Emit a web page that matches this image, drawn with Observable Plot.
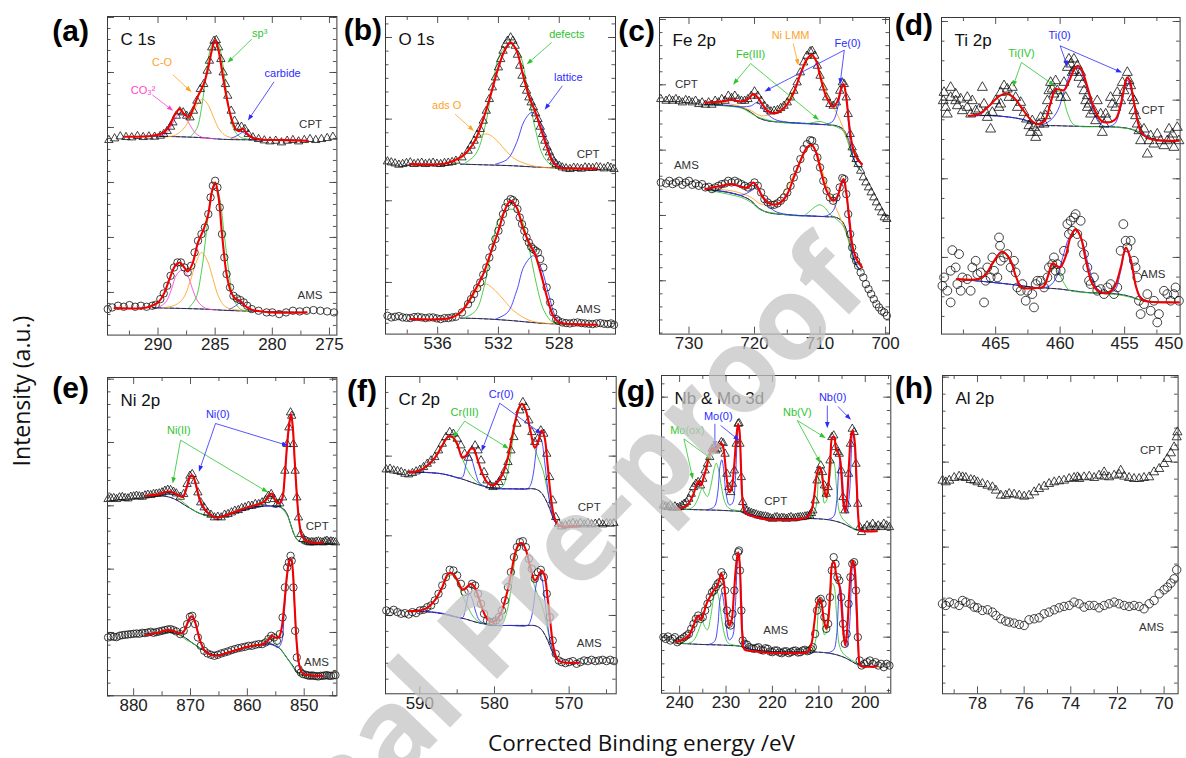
<!DOCTYPE html>
<html><head><meta charset="utf-8">
<script src="https://cdn.jsdelivr.net/npm/d3@7"></script>
<script src="https://cdn.jsdelivr.net/npm/@observablehq/plot@0.6"></script>
<style>
body{margin:0;background:#fff;}
#root{position:relative;width:1186px;height:758px;overflow:hidden;background:#fff;}
</style></head><body><div id="root"></div>
<script>
// ---------------- DATA: [binding energy (eV), intensity (a.u.)] ----------------
// (a) C 1s
const a_cpt = [[294.3,585],[293.8,590],[293.3,596],[292.8,594],[292.3,593],[291.8,597],[291.3,594],[290.8,596],[290.3,595],[289.8,598],[289.5,603],[289.2,612],[288.9,625],[288.7,638],[288.4,658],[288.1,671],[287.8,668],[287.5,658],[287.2,653],[286.9,673],[286.6,703],[286.3,738],[286.0,753],[285.7,793],[285.5,823],[285.3,863],[285.1,883],[284.9,885],[284.7,863],[284.5,828],[284.3,788],[284.1,753],[283.9,718],[283.6,673],[283.3,643],[283.0,623],[282.7,625],[282.4,618],[282.1,603],[281.7,593],[281.2,588],[280.7,584],[280.2,581],[279.7,583],[279.2,578],[278.7,583],[278.2,585],[277.7,581],[277.2,585],[276.7,588],[276.2,585],[275.7,588],[275.2,591],[274.7,595]];
const a_cpt_fit = [[292.9,595],[290.5,598],[289.5,608],[289.0,628],[288.5,663],[288.1,678],[287.7,663],[287.3,655],[287.0,673],[286.5,718],[286.0,753],[285.6,803],[285.3,853],[285.0,885],[284.7,853],[284.4,793],[284.0,713],[283.6,653],[283.2,618],[282.9,612],[282.6,620],[282.3,608],[281.8,593],[281.0,587],[279.0,585],[276.9,583]];
const a_cpt_co3 = [[290.0,596],[289.3,605],[288.8,630],[288.4,655],[288.0,668],[287.6,655],[287.2,630],[286.7,605],[286.0,592],[285.0,590]];
const a_cpt_co = [[289.5,594],[288.5,600],[287.8,618],[287.2,650],[286.7,685],[286.1,708],[285.6,690],[285.1,650],[284.6,615],[284.0,597],[283.0,590]];
const a_cpt_sp3 = [[287.2,594],[286.6,620],[286.2,680],[285.8,780],[285.4,860],[285.0,885],[284.6,860],[284.2,780],[283.8,680],[283.4,620],[282.8,594],[282.0,588]];
const a_cpt_carb = [[283.6,590],[283.0,600],[282.6,608],[282.2,600],[281.6,588]];
const a_cpt_bg = [[290.5,597],[288.0,595],[286.0,592],[285.0,589],[284.0,587],[282.0,586],[280.0,585],[277.0,584]];
const a_ams = [[294.4,78],[294.0,83],[293.5,88],[293.0,85],[292.5,90],[292.0,85],[291.5,88],[291.0,85],[290.5,88],[290.2,91],[289.8,108],[289.5,125],[289.2,148],[288.9,178],[288.6,203],[288.3,218],[288.0,218],[287.7,203],[287.4,188],[287.1,208],[286.8,248],[286.5,283],[286.2,303],[285.9,323],[285.6,363],[285.4,413],[285.2,448],[285.0,463],[284.8,443],[284.6,383],[284.4,303],[284.2,233],[284.0,183],[283.7,143],[283.4,118],[283.1,110],[282.8,105],[282.5,98],[282.2,88],[281.8,78],[281.2,73],[280.5,68],[280.0,68],[279.4,63],[278.8,68],[278.2,73],[277.6,71],[277.0,73],[276.4,75],[275.8,73],[275.2,71],[274.6,68]];
const a_ams_fit = [[293.8,81],[291.0,83],[290.0,98],[289.5,123],[289.0,168],[288.5,208],[288.1,218],[287.7,203],[287.4,191],[287.0,213],[286.5,278],[286.0,318],[285.6,363],[285.3,428],[285.0,458],[284.7,413],[284.4,303],[284.0,183],[283.6,128],[283.2,108],[282.8,103],[282.4,88],[281.8,76],[280.0,68],[277.0,68]];
const a_ams_co3 = [[290.0,82],[289.3,100],[288.8,140],[288.4,180],[287.9,195],[287.4,178],[287.0,140],[286.5,100],[285.8,80],[285.0,76]];
const a_ams_co = [[289.5,82],[288.5,90],[287.8,110],[287.2,160],[286.7,215],[286.2,248],[285.7,225],[285.2,170],[284.7,115],[284.1,85],[283.0,75],[282.0,73]];
const a_ams_sp3 = [[287.3,82],[286.7,110],[286.2,190],[285.8,300],[285.4,410],[285.0,458],[284.6,410],[284.2,300],[283.8,190],[283.4,110],[282.8,78],[282.0,72]];
const a_ams_carb = [[283.8,76],[283.2,88],[282.8,98],[282.4,88],[281.8,72]];
const a_ams_bg = [[290.5,82],[288.0,80],[286.0,78],[284.0,74],[282.0,72],[280.0,70],[277.0,68]];
const a_labels = [{x:281.1,y:906,text:"sp³",c:"green"},{x:289.65,y:818,text:"C-O",c:"orange"},{x:291.3,y:735,text:"CO₃²",c:"magenta"},{x:279.1,y:785,text:"carbide",c:"blue"},{x:276.65,y:633,text:"CPT",c:"dark"},{x:276.7,y:118,text:"AMS",c:"dark"}];
const a_arrows = [{x1:281.8,y1:888,x2:283.75,y2:823,c:"green"},{x1:288.7,y1:781,x2:287.25,y2:735,c:"orange"},{x1:290.5,y1:721,x2:288.87,y2:678,c:"magenta"},{x1:279.85,y1:760,x2:282.0,y2:651,c:"blue"}];

// (b) O 1s
const b_cpt = [[539.3,518],[539.05,515],[538.8,512],[538.55,508],[538.3,510],[538.05,513],[537.8,515],[537.55,510],[537.3,512],[537.05,514],[536.8,510],[536.55,512],[536.3,514],[536.05,511],[535.8,510],[535.55,513],[535.3,514],[535.05,516],[534.8,520],[534.4,530],[534.0,550],[533.8,565],[533.6,580],[533.4,598],[533.2,615],[533.0,640],[532.8,670],[532.6,705],[532.4,740],[532.2,770],[532.0,800],[531.85,825],[531.7,850],[531.55,868],[531.4,880],[531.2,890],[531.05,880],[530.9,865],[530.75,838],[530.6,805],[530.45,775],[530.3,750],[530.15,730],[530.0,710],[529.85,695],[529.7,680],[529.55,662],[529.4,645],[529.25,622],[529.1,600],[528.95,580],[528.8,560],[528.65,545],[528.5,530],[528.35,518],[528.2,510],[528.0,505],[527.8,500],[527.55,497],[527.3,495],[527.05,499],[526.8,498],[526.55,496],[526.3,500],[526.05,499],[525.8,498],[525.55,501],[525.3,500],[525.05,497],[524.8,502],[524.6,499],[524.4,495]];
const b_cpt_fit = [[537.8,510],[535.5,512],[534.5,530],[534.0,550],[533.5,585],[533.0,645],[532.5,720],[532.0,800],[531.6,850],[531.2,875],[530.8,850],[530.4,780],[530.0,715],[529.6,670],[529.2,615],[528.8,560],[528.4,515],[528.0,500],[527.0,497],[525.5,497]];
const b_cpt_def = [[534.3,510],[533.5,540],[532.9,620],[532.4,740],[531.9,840],[531.2,870],[530.6,840],[530.1,740],[529.6,620],[529.0,530],[528.3,502],[527.5,500]];
const b_cpt_ads = [[535.5,510],[534.5,525],[533.8,560],[533.2,595],[532.7,600],[532.2,585],[531.6,555],[531.0,528],[530.0,508],[529.0,500],[527.0,498]];
const b_cpt_lat = [[532.2,510],[531.4,525],[530.8,575],[530.3,640],[529.8,665],[529.3,640],[528.8,570],[528.3,515],[527.7,500]];
const b_cpt_bg = [[534.5,510],[533.0,508],[531.0,505],[529.0,500],[527.0,498]];
const b_ams = [[539.3,55],[539.05,50],[538.8,52],[538.55,54],[538.3,50],[538.05,49],[537.8,48],[537.55,51],[537.3,52],[537.05,50],[536.8,48],[536.55,50],[536.3,50],[536.05,47],[535.8,45],[535.55,48],[535.3,48],[535.05,50],[534.8,52],[534.4,65],[534.0,90],[533.8,105],[533.6,120],[533.4,138],[533.2,155],[533.0,178],[532.8,200],[532.6,230],[532.4,260],[532.2,285],[532.0,310],[531.85,335],[531.7,360],[531.55,380],[531.4,395],[531.2,405],[531.05,402],[530.9,395],[530.75,375],[530.6,350],[530.45,330],[530.3,310],[530.15,290],[530.0,275],[529.85,262],[529.7,255],[529.55,250],[529.4,245],[529.25,225],[529.05,200],[528.83,140],[528.6,95],[528.4,65],[528.2,45],[528.07,40],[527.8,35],[527.55,33],[527.3,32],[527.05,34],[526.8,35],[526.55,33],[526.3,32],[526.05,31],[525.8,30],[525.55,32],[525.3,33],[525.05,31],[524.8,30],[524.6,32],[524.4,28]];
const b_ams_fit = [[537.8,45],[535.2,48],[534.5,65],[534.0,95],[533.5,135],[533.0,180],[532.5,245],[532.0,310],[531.6,370],[531.2,400],[530.8,380],[530.4,320],[530.0,275],[529.6,240],[529.2,180],[528.8,110],[528.4,55],[528.0,35],[527.0,30],[525.5,28]];
const b_ams_def = [[534.3,48],[533.5,70],[532.9,150],[532.4,270],[531.9,350],[531.1,375],[530.5,345],[530.0,260],[529.5,150],[529.0,70],[528.4,35],[527.5,30]];
const b_ams_ads = [[535.5,46],[534.5,60],[533.8,105],[533.2,143],[532.8,150],[532.2,130],[531.6,100],[531.0,70],[530.0,42],[529.0,33],[527.0,30]];
const b_ams_lat = [[532.2,45],[531.4,65],[530.8,130],[530.3,205],[529.7,235],[529.2,200],[528.7,120],[528.2,50],[527.6,30]];
const b_ams_bg = [[534.5,48],[533.0,46],[531.0,40],[529.0,32],[527.0,30]];
const b_labels = [{x:527.5,y:898,text:"defects",c:"green"},{x:527.4,y:770,text:"lattice",c:"blue"},{x:535.4,y:685,text:"ads O",c:"orange"},{x:526.1,y:538,text:"CPT",c:"dark"},{x:526.1,y:75,text:"AMS",c:"dark"}];
const b_arrows = [{x1:528.5,y1:875,x2:530.0,y2:815,c:"green"},{x1:527.8,y1:745,x2:528.85,y2:680,c:"blue"},{x1:534.85,y1:660,x2:533.75,y2:615,c:"orange"}];

// (c) Fe 2p
const c_cpt = [[734.3,705],[733.5,700],[733.0,705],[732.5,700],[732.0,705],[731.5,700],[731.0,695],[730.5,702],[730.0,700],[729.5,695],[729.0,700],[728.5,690],[728.0,695],[727.5,688],[727.0,695],[726.5,688],[726.0,700],[725.5,695],[725.0,705],[724.5,700],[724.0,715],[723.5,708],[723.0,715],[722.5,705],[722.0,700],[721.5,700],[721.0,705],[720.5,715],[720.0,728],[719.5,715],[719.0,700],[718.5,685],[718.0,675],[717.5,668],[717.0,670],[716.5,672],[716.0,678],[715.5,685],[715.0,695],[714.5,710],[714.0,730],[713.5,755],[713.0,785],[712.5,815],[712.0,835],[711.5,848],[711.2,850],[710.8,835],[710.4,805],[710.0,775],[709.5,740],[709.0,710],[708.5,690],[708.0,685],[707.5,695],[707.0,730],[706.6,755],[706.3,750],[706.0,710],[705.7,660],[705.4,600],[705.1,560],[704.8,540],[704.5,525],[704.2,510],[703.8,490],[703.4,470],[703.0,455],[702.6,440],[702.2,425],[701.8,410],[701.4,395],[701.0,380],[700.6,365],[700.2,350],[699.8,345]];
const c_cpt_fit = [[727.5,695],[725.0,698],[723.5,703],[722.0,698],[721.0,705],[720.2,720],[719.5,710],[719.0,695],[718.0,670],[717.0,662],[716.0,670],[715.0,690],[714.0,725],[713.0,780],[712.0,825],[711.3,838],[710.6,820],[710.0,775],[709.0,710],[708.0,682],[707.3,700],[706.8,735],[706.4,750],[706.0,710],[705.5,620],[705.0,560],[704.3,525],[703.6,510]];
const c_cpt_bg = [[727.5,690],[724.0,685],[722.0,680],[720.5,665],[719.5,650],[718.0,640],[715.0,635],[712.0,632],[709.0,628],[707.5,625],[706.5,615],[705.8,590],[705.2,545],[704.5,510],[704.0,495],[703.7,490]];
const c_cpt_ni = [[727.5,692],[723.0,688],[720.5,670],[719.0,655],[717.5,660],[716.0,680],[714.5,715],[713.0,775],[712.0,820],[711.3,832],[710.5,815],[709.5,755],[708.5,700],[707.5,665],[706.5,620],[705.5,570],[704.5,530],[703.7,515]];
const c_cpt_fe0 = [[727.5,690],[724.0,686],[722.0,682],[720.5,685],[719.6,695],[718.5,670],[717.0,645],[715.0,636],[711.0,630],[709.0,630],[708.0,640],[707.3,680],[706.8,730],[706.4,745],[706.0,710],[705.6,620],[705.2,550],[704.6,515],[704.0,500]];
const c_cpt_fe3 = [[727.5,688],[722.0,678],[720.5,662],[719.0,648],[716.0,635],[712.0,632],[711.0,635],[710.0,638],[709.0,632],[707.5,622],[706.5,610],[705.8,580],[705.2,540],[704.5,507],[703.8,492]];
const c_ams = [[734.3,455],[733.5,452],[733.0,460],[732.5,450],[732.0,455],[731.5,460],[731.0,448],[730.5,455],[730.0,460],[729.5,448],[729.0,452],[728.5,445],[728.0,450],[727.5,440],[727.0,442],[726.5,435],[726.0,440],[725.5,445],[725.0,450],[724.5,452],[724.0,460],[723.5,455],[723.0,460],[722.5,455],[722.0,450],[721.5,445],[721.0,440],[720.5,445],[720.0,455],[719.5,445],[719.0,425],[718.5,405],[718.0,395],[717.5,388],[717.0,388],[716.5,392],[716.0,400],[715.5,410],[715.0,425],[714.5,445],[714.0,470],[713.5,495],[713.0,525],[712.5,555],[712.0,570],[711.5,582],[711.2,580],[710.8,560],[710.4,530],[710.0,500],[709.5,460],[709.0,430],[708.5,410],[708.0,400],[707.5,410],[707.0,440],[706.6,468],[706.3,465],[706.0,420],[705.7,360],[705.4,300],[705.1,260],[704.8,235],[704.5,220],[704.2,205],[703.8,185],[703.4,170],[703.0,150],[702.6,135],[702.2,120],[701.8,105],[701.4,90],[701.0,80],[700.6,70],[700.2,65],[699.8,55]];
const c_ams_fit = [[727.5,435],[725.0,445],[723.5,450],[722.0,442],[721.0,440],[720.2,455],[719.5,440],[719.0,420],[718.0,395],[717.0,388],[716.0,395],[715.0,420],[714.0,470],[713.0,520],[712.0,560],[711.3,568],[710.6,545],[710.0,500],[709.0,430],[708.0,400],[707.3,415],[706.8,450],[706.4,465],[706.0,425],[705.5,340],[705.0,260],[704.3,220],[703.6,200]];
const c_ams_bg = [[727.5,435],[724.0,425],[722.0,415],[720.5,400],[719.5,380],[718.0,365],[715.0,358],[712.0,355],[709.0,352],[707.5,350],[706.5,335],[705.8,300],[705.2,250],[704.5,210],[704.0,195],[703.7,190]];
const c_ams_ni = [[727.5,437],[723.0,428],[720.5,410],[719.0,390],[717.5,395],[716.0,415],[714.5,460],[713.0,515],[712.0,555],[711.3,565],[710.5,545],[709.5,480],[708.5,420],[707.5,375],[706.5,330],[705.5,280],[704.5,230],[703.7,205]];
const c_ams_fe0 = [[727.5,435],[724.0,426],[722.0,417],[720.5,430],[719.6,440],[718.5,400],[717.0,370],[715.0,359],[711.0,354],[709.0,355],[708.0,370],[707.3,410],[706.8,445],[706.4,455],[706.0,420],[705.6,340],[705.2,260],[704.6,210],[704.0,195]];
const c_ams_fe3 = [[727.5,433],[722.0,410],[720.5,395],[719.0,372],[716.0,360],[713.5,355],[712.5,355],[711.5,370],[710.5,385],[710.0,388],[709.3,380],[708.5,360],[707.5,345],[706.5,325],[705.8,290],[705.2,240],[704.5,205],[703.8,190]];
const c_labels = [{x:720.6,y:840,text:"Fe(III)",c:"green"},{x:714.5,y:895,text:"Ni LMM",c:"orange"},{x:705.8,y:873,text:"Fe(0)",c:"blue"},{x:730.4,y:750,text:"CPT",c:"dark"},{x:730.4,y:505,text:"AMS",c:"dark"}];
const c_arrows = [{x1:720.6,y1:812,x2:723.0,y2:755,c:"green"},{x1:720.6,y1:812,x2:710.5,y2:648,c:"green"},{x1:714.1,y1:872,x2:713.4,y2:815,c:"orange"},{x1:706.3,y1:852,x2:718.1,y2:732,c:"blue"},{x1:706.3,y1:852,x2:706.9,y2:757,c:"blue"}];

// (d) Ti 2p
const d_cpt = [[469.0,725],[469.06,700],[468.88,680],[468.49,740],[468.49,710],[468.1,720],[468.1,700],[467.97,685],[468.75,660],[467.71,705],[467.58,670],[467.2,710],[467.2,680],[466.94,660],[466.81,700],[466.55,670],[466.29,675],[466.03,740],[465.9,690],[465.78,665],[465.65,650],[465.39,615],[465.26,665],[465.0,700],[464.74,680],[464.61,725],[464.61,690],[464.35,745],[464.1,735],[463.97,710],[463.71,740],[463.45,710],[463.32,680],[463.06,695],[462.8,665],[462.6,645],[462.42,625],[462.29,605],[462.16,640],[462.03,620],[461.9,590],[461.77,605],[461.64,630],[461.51,650],[461.25,630],[461.12,655],[460.99,700],[460.99,670],[460.87,730],[460.74,755],[460.61,735],[460.48,720],[460.35,760],[460.22,730],[459.96,710],[459.7,755],[459.57,710],[459.44,800],[459.32,825],[459.19,810],[459.06,785],[458.93,825],[458.93,790],[458.67,805],[458.54,770],[458.41,785],[458.28,750],[458.15,730],[458.02,700],[457.89,715],[457.89,680],[457.76,690],[457.64,660],[457.38,670],[457.25,640],[457.12,700],[456.86,660],[456.73,605],[456.6,630],[456.47,660],[456.34,645],[456.09,710],[455.96,690],[455.7,680],[455.57,725],[455.31,700],[455.18,755],[455.05,730],[454.79,785],[454.66,760],[454.53,745],[454.41,710],[454.28,670],[454.28,700],[454.15,655],[454.02,630],[453.89,610],[453.76,580],[453.5,615],[453.24,540],[453.11,580],[452.98,595],[452.73,570],[452.47,600],[452.21,580],[451.95,565],[451.69,580],[451.56,615],[451.43,585],[451.3,600],[451.18,560],[450.92,620],[450.79,580]];
const d_cpt_fit = [[467.1,655],[466.3,660],[465.5,685],[464.8,712],[464.2,722],[463.6,710],[463.0,680],[462.4,648],[461.8,630],[461.2,640],[460.7,700],[460.35,735],[460.0,733],[459.7,732],[459.3,760],[458.9,795],[458.6,805],[458.3,790],[457.8,730],[457.3,670],[456.8,640],[456.3,635],[455.7,645],[455.3,690],[455.0,745],[454.8,770],[454.6,760],[454.3,700],[454.0,640],[453.7,605],[453.2,588],[452.5,582],[451.5,580],[450.8,580]];
const d_cpt_bg = [[467.1,655],[465.0,655],[463.0,645],[461.5,628],[460.0,625],[458.0,623],[456.0,622],[454.5,615],[453.5,595],[452.5,582],[450.8,580]];
const d_cpt_ti0 = [[467.1,655],[465.0,655],[463.0,645],[462.0,632],[461.5,628],[460.8,640],[460.2,670],[459.6,740],[459.1,790],[458.6,800],[458.1,760],[457.5,680],[457.0,635],[456.5,623],[455.8,630],[455.3,680],[454.8,762],[454.3,700],[453.8,620],[453.4,598],[452.8,584],[451.0,580]];
const d_cpt_ti4 = [[467.1,655],[466.3,662],[465.5,685],[464.8,712],[464.2,720],[463.6,708],[463.0,678],[462.4,648],[461.8,632],[461.2,642],[460.7,700],[460.3,732],[459.9,720],[459.4,660],[459.0,630],[458.5,623],[457.0,622],[455.0,618],[454.0,610],[453.5,598],[452.5,583],[451.0,580]];
const d_ams = [[469.13,145],[469.0,170],[468.75,130],[468.49,95],[468.36,252],[468.49,190],[468.1,200],[467.84,240],[467.97,150],[467.58,170],[467.71,130],[467.2,165],[466.94,130],[466.81,200],[466.55,220],[466.42,180],[466.16,185],[465.9,95],[465.78,160],[465.65,200],[465.39,170],[465.26,230],[465.13,190],[464.87,170],[464.74,290],[464.66,265],[464.61,220],[464.35,230],[464.1,240],[463.84,200],[463.58,220],[463.45,185],[463.32,140],[463.06,130],[462.93,150],[462.67,100],[462.55,130],[462.16,120],[462.03,80],[461.9,150],[461.77,160],[461.51,160],[461.25,140],[460.99,170],[460.87,200],[460.61,210],[460.48,230],[460.35,190],[460.22,210],[460.09,170],[459.96,190],[459.7,250],[459.44,330],[459.32,300],[459.19,340],[459.06,310],[458.93,350],[458.8,360],[458.67,300],[458.41,340],[458.28,270],[458.15,240],[457.89,200],[457.76,160],[457.64,150],[457.38,170],[457.12,130],[456.86,135],[456.6,120],[456.34,140],[456.09,150],[455.83,120],[455.57,140],[455.31,250],[455.1,330],[454.92,280],[454.79,260],[454.53,280],[454.28,220],[454.15,200],[454.02,170],[453.89,100],[453.76,60],[453.5,90],[453.24,120],[452.98,70],[452.73,100],[452.47,35],[452.34,60],[451.95,130],[451.69,120],[451.43,100],[451.18,120],[451.05,140],[450.79,100]];
const d_ams_fit = [[468.0,165],[466.3,165],[465.8,178],[465.2,215],[464.5,248],[463.9,225],[463.4,170],[463.0,140],[462.0,138],[461.3,142],[460.9,180],[460.6,212],[460.2,203],[460.0,200],[459.6,230],[459.2,290],[458.8,315],[458.4,290],[458.0,220],[457.5,150],[457.0,128],[456.3,123],[455.8,140],[455.3,200],[454.9,260],[454.5,220],[454.1,140],[453.7,105],[453.0,97],[451.5,95],[450.8,95]];
const d_ams_bg = [[468.0,165],[466.0,158],[464.0,150],[462.0,140],[461.0,138],[460.0,135],[459.0,130],[458.0,125],[457.0,123],[455.5,120],[454.5,112],[453.8,102],[453.0,97],[450.8,95]];
const d_ams_ti0 = [[468.0,165],[466.0,158],[464.0,150],[462.0,140],[461.5,138],[460.8,145],[460.3,170],[459.8,230],[459.3,290],[458.8,312],[458.3,280],[457.7,190],[457.2,140],[456.6,125],[455.8,130],[455.3,190],[454.9,258],[454.4,190],[454.0,130],[453.6,105],[453.0,97],[451.0,95]];
const d_ams_ti4 = [[468.0,165],[466.3,163],[465.8,175],[465.2,210],[464.5,245],[463.9,222],[463.4,168],[463.0,145],[462.2,140],[461.3,142],[460.9,180],[460.6,210],[460.2,190],[459.8,160],[459.3,132],[458.5,126],[457.0,122],[455.5,118],[454.5,110],[453.8,102],[453.0,97],[451.0,95]];
const d_labels = [{x:463.0,y:842,text:"Ti(IV)",c:"green"},{x:460.04,y:895,text:"Ti(0)",c:"blue"},{x:452.8,y:670,text:"CPT",c:"dark"},{x:452.8,y:180,text:"AMS",c:"dark"}];
const d_arrows = [{x1:463.0,y1:815,x2:463.6,y2:750,c:"green"},{x1:463.0,y1:815,x2:460.6,y2:750,c:"green"},{x1:460.0,y1:865,x2:459.5,y2:810,c:"blue"},{x1:460.0,y1:865,x2:455.4,y2:788,c:"blue"}];

// (e) Ni 2p
const e_cpt = [[884.5,590],[884.0,592],[883.5,593],[883.0,590],[882.5,595],[882.0,596],[881.5,593],[881.0,592],[880.5,597],[880.0,598],[879.5,600],[879.0,598],[878.5,597],[878.0,601],[877.5,603],[877.0,602],[876.5,605],[876.0,606],[875.5,607],[875.0,610],[874.5,615],[874.0,618],[873.5,617],[873.0,612],[872.5,607],[871.8,597],[871.2,605],[870.6,635],[870.1,660],[869.7,665],[869.2,645],[868.7,610],[868.2,580],[867.6,565],[867.0,550],[866.4,543],[865.8,535],[865.2,537],[864.6,535],[864.0,543],[863.4,545],[862.8,550],[862.2,555],[861.6,557],[861.0,563],[860.4,565],[859.8,570],[859.2,570],[858.6,575],[858.0,575],[857.4,580],[856.8,587],[856.3,600],[855.8,605],[855.3,590],[854.8,575],[854.3,577],[853.8,595],[853.4,675],[853.0,755],[852.7,805],[852.4,850],[852.2,840],[851.9,755],[851.6,675],[851.3,595],[851.0,535],[850.6,485],[850.2,470],[849.7,465],[849.35,462],[849.0,460],[848.65,461],[848.3,460],[847.9,462],[847.5,463],[847.1,461],[846.7,460],[846.35,463],[846.0,465],[845.65,461],[845.3,463],[844.9,462],[844.5,460]];
const e_cpt_fit = [[877.8,600],[875.5,605],[874.0,613],[873.0,610],[872.0,600],[871.3,597],[870.6,630],[870.0,660],[869.6,660],[869.0,630],[868.4,590],[867.5,560],[866.5,543],[865.5,535],[864.0,540],[862.0,553],[860.0,565],[858.0,575],[857.0,583],[856.2,600],[855.7,607],[855.2,590],[854.5,577],[853.9,590],[853.4,665],[853.0,755],[852.6,820],[852.3,845],[852.0,805],[851.7,715],[851.3,605],[850.9,525],[850.4,480],[849.7,465],[848.5,460],[846.8,460]];
const e_cpt_bg = [[877.8,600],[875.0,600],[873.5,595],[872.2,585],[871.0,572],[869.8,560],[868.5,548],[867.0,540],[865.5,537],[863.5,543],[861.5,553],[859.5,562],[857.5,568],[856.0,570],[854.5,568],[853.6,560],[853.0,545],[852.4,515],[851.8,485],[851.2,468],[850.5,462],[849.0,460],[846.8,460]];
const e_cpt_ni0 = [[877.8,600],[875.0,603],[873.5,605],[872.5,603],[871.5,600],[870.6,625],[870.0,658],[869.6,660],[869.0,625],[868.4,585],[867.5,555],[866.5,543],[865.5,537],[863.5,543],[861.5,553],[859.5,562],[857.5,568],[856.5,570],[855.5,567],[854.8,565],[854.0,580],[853.4,660],[853.0,750],[852.6,815],[852.3,843],[852.0,800],[851.7,710],[851.3,600],[850.9,525],[850.4,480],[849.7,465],[848.5,460],[846.8,460]];
const e_cpt_ni2 = [[877.8,600],[875.0,600],[874.0,605],[873.3,608],[872.5,600],[871.6,585],[870.5,570],[869.8,560],[868.5,548],[867.0,540],[865.5,537],[863.5,543],[861.5,553],[859.5,562],[857.5,570],[856.6,585],[856.0,600],[855.4,590],[854.7,572],[854.0,563],[853.4,552],[852.8,535],[852.2,505],[851.6,478],[851.0,465],[850.0,460],[846.8,460]];
const e_ams = [[884.5,175],[884.0,178],[883.5,177],[883.0,176],[882.5,180],[882.0,182],[881.5,183],[881.0,184],[880.5,185],[880.0,186],[879.5,187],[879.0,186],[878.5,189],[878.0,188],[877.5,190],[877.0,192],[876.5,189],[876.0,191],[875.5,193],[875.0,195],[874.5,197],[874.0,199],[873.5,200],[873.0,197],[872.5,193],[871.8,185],[871.2,195],[870.6,215],[870.1,237],[869.7,240],[869.2,215],[868.7,175],[868.2,150],[867.6,135],[867.0,127],[866.4,123],[865.8,120],[865.2,123],[864.6,127],[864.0,130],[863.4,133],[862.8,137],[862.2,140],[861.6,143],[861.0,145],[860.4,147],[859.8,150],[859.2,150],[858.6,153],[858.0,155],[857.4,155],[856.8,160],[856.3,170],[855.8,180],[855.3,175],[854.8,165],[854.3,185],[853.8,235],[853.4,325],[853.0,385],[852.7,400],[852.4,420],[852.2,405],[851.9,325],[851.6,195],[851.3,115],[851.0,80],[850.6,70],[850.2,65],[849.7,63],[849.35,61],[849.0,60],[848.65,61],[848.3,60],[847.9,59],[847.5,58],[847.1,60],[846.7,60],[846.35,61],[846.0,62],[845.65,60],[845.3,60],[844.9,61],[844.5,62]];
const e_ams_fit = [[877.8,183],[875.5,190],[874.0,197],[873.0,195],[872.0,187],[871.3,190],[870.6,215],[870.0,237],[869.6,237],[869.0,210],[868.4,170],[867.5,135],[866.5,123],[865.5,120],[864.0,127],[862.0,137],[860.0,147],[858.0,153],[857.0,157],[856.2,170],[855.7,180],[855.2,175],[854.5,175],[854.0,200],[853.5,275],[853.0,365],[852.6,405],[852.3,410],[852.0,375],[851.7,275],[851.3,155],[850.9,95],[850.4,70],[849.7,63],[848.5,60],[846.8,60]];
const e_ams_bg = [[877.8,185],[875.0,188],[873.5,192],[872.2,185],[871.0,175],[869.8,160],[868.5,145],[867.0,130],[865.5,122],[863.5,128],[861.5,140],[859.5,148],[857.5,153],[856.0,156],[855.0,150],[854.2,140],[853.5,125],[852.8,108],[852.0,90],[851.4,75],[850.8,66],[849.8,62],[846.8,60]];
const e_ams_ni0 = [[877.8,185],[875.0,192],[873.5,196],[872.5,192],[871.5,188],[870.6,212],[870.0,235],[869.6,236],[869.0,210],[868.4,170],[867.5,138],[866.5,125],[865.5,122],[863.5,128],[861.5,140],[859.5,148],[857.5,153],[856.5,155],[855.5,152],[854.6,145],[854.0,160],[853.5,250],[853.0,360],[852.6,400],[852.3,410],[852.0,370],[851.7,270],[851.3,150],[850.9,90],[850.4,68],[849.7,62],[848.5,60],[846.8,60]];
const e_ams_ni2 = [[877.8,185],[875.0,188],[874.0,193],[873.3,195],[872.5,188],[871.6,178],[870.5,165],[869.8,160],[868.5,145],[867.0,130],[865.5,122],[863.5,128],[861.5,140],[859.5,148],[857.5,155],[856.6,170],[856.0,178],[855.4,170],[854.7,150],[854.0,138],[853.4,122],[852.8,108],[852.2,92],[851.6,76],[851.0,66],[850.0,61],[846.8,60]];
const e_labels = [{x:872.05,y:795,text:"Ni(II)",c:"green"},{x:865.2,y:845,text:"Ni(0)",c:"blue"},{x:847.7,y:507,text:"CPT",c:"dark"},{x:847.85,y:100,text:"AMS",c:"dark"}];
const e_arrows = [{x1:871.75,y1:767,x2:873.05,y2:645,c:"green"},{x1:871.75,y1:767,x2:856.8,y2:615,c:"green"},{x1:865.6,y1:817,x2:868.36,y2:680,c:"blue"},{x1:865.6,y1:817,x2:853.3,y2:753,c:"blue"}];

// (f) Cr 2p
const f_cpt = [[594.5,673],[594.0,675],[593.5,670],[593.0,668],[592.5,665],[592.0,660],[591.5,658],[591.0,662],[590.5,667],[590.0,672],[589.5,680],[589.0,690],[588.5,700],[588.0,710],[587.5,730],[587.0,750],[586.5,770],[586.0,785],[585.5,780],[585.0,765],[584.5,745],[584.0,720],[583.5,708],[583.0,730],[582.6,745],[582.2,730],[581.8,700],[581.4,665],[581.0,640],[580.6,625],[580.2,620],[579.8,625],[579.4,635],[579.0,650],[578.6,670],[578.2,695],[577.8,730],[577.4,770],[577.0,810],[576.6,850],[576.2,875],[575.8,860],[575.4,820],[575.0,785],[574.6,755],[574.2,765],[573.8,790],[573.4,780],[573.0,720],[572.6,650],[572.2,580],[571.8,530],[571.4,510],[571.0,502],[570.5,505],[570.0,508],[569.5,512],[569.0,508],[568.5,512],[568.0,508],[567.5,512],[567.0,508],[566.5,510],[566.0,512],[565.5,508],[565.0,512],[564.5,510],[564.0,512]];
const f_cpt_fit = [[591.5,665],[590.0,670],[589.0,685],[588.0,708],[587.0,745],[586.2,772],[585.6,770],[585.0,750],[584.3,708],[583.8,715],[583.2,735],[582.8,735],[582.3,705],[581.7,665],[581.0,635],[580.3,625],[579.6,635],[579.0,655],[578.3,700],[577.7,765],[577.2,820],[576.7,860],[576.3,870],[575.8,850],[575.2,790],[574.6,738],[574.1,760],[573.7,790],[573.3,770],[572.9,690],[572.5,600],[572.1,540],[571.6,510],[571.0,502],[569.5,502],[568.7,502]];
const f_cpt_bg = [[591.5,665],[590.0,665],[588.5,663],[587.0,660],[585.5,652],[584.0,642],[582.5,630],[581.0,620],[580.0,616],[578.0,615],[576.0,615],[574.5,614],[573.8,605],[573.2,585],[572.6,555],[572.1,525],[571.6,508],[571.0,502],[568.7,502]];
const f_cpt_cr0 = [[591.5,665],[588.0,663],[586.0,655],[585.0,648],[584.3,650],[583.8,690],[583.4,718],[583.0,700],[582.5,660],[582.0,632],[581.0,620],[580.0,616],[578.0,615],[575.6,615],[575.2,625],[574.8,660],[574.4,730],[574.0,770],[573.7,760],[573.3,700],[572.9,620],[572.5,560],[572.0,520],[571.5,506],[571.0,502],[568.7,502]];
const f_cpt_cr3 = [[591.5,665],[590.0,668],[589.0,682],[588.0,705],[587.0,740],[586.2,768],[585.6,768],[585.0,745],[584.3,705],[583.6,670],[582.8,645],[582.0,630],[581.0,620],[580.0,616],[579.0,620],[578.3,660],[577.7,740],[577.2,810],[576.7,855],[576.3,865],[575.8,845],[575.2,790],[574.6,735],[574.0,700],[573.5,670],[573.0,620],[572.5,570],[572.0,525],[571.5,508],[571.0,502],[568.7,502]];
const f_ams = [[594.5,250],[594.0,245],[593.5,252],[593.0,245],[592.5,240],[592.0,242],[591.5,238],[591.0,245],[590.5,242],[590.0,250],[589.5,252],[589.0,260],[588.5,265],[588.0,280],[587.5,300],[587.0,325],[586.5,350],[586.0,372],[585.5,370],[585.0,355],[584.5,330],[584.0,305],[583.5,310],[583.0,330],[582.6,325],[582.2,300],[581.8,270],[581.4,240],[581.0,220],[580.6,215],[580.2,215],[579.8,220],[579.4,230],[579.0,250],[578.6,280],[578.2,320],[577.8,365],[577.4,410],[577.0,440],[576.6,455],[576.2,458],[575.8,440],[575.4,405],[575.0,375],[574.6,345],[574.2,365],[573.8,372],[573.4,350],[573.0,300],[572.6,230],[572.2,160],[571.8,120],[571.4,100],[571.0,95],[570.5,92],[570.0,95],[569.5,98],[569.0,90],[568.5,95],[568.0,100],[567.5,98],[567.0,102],[566.5,98],[566.0,100],[565.5,102],[565.0,98],[564.5,102],[564.0,98]];
const f_ams_fit = [[591.5,248],[590.0,250],[589.0,258],[588.0,280],[587.0,320],[586.2,360],[585.6,360],[585.0,342],[584.3,312],[583.8,318],[583.2,330],[582.8,325],[582.3,300],[581.7,260],[581.0,225],[580.3,215],[579.6,225],[579.0,250],[578.3,305],[577.7,370],[577.2,425],[576.7,450],[576.3,452],[575.8,432],[575.2,380],[574.6,340],[574.1,355],[573.7,370],[573.3,355],[572.9,290],[572.5,210],[572.1,140],[571.6,105],[571.0,95],[569.5,93],[568.7,93]];
const f_ams_bg = [[591.5,248],[590.0,247],[588.5,245],[587.0,240],[585.5,232],[584.0,225],[582.5,215],[581.0,208],[580.0,205],[578.0,205],[576.0,205],[574.5,204],[573.8,195],[573.2,175],[572.6,145],[572.1,118],[571.6,102],[571.0,95],[568.7,93]];
const f_ams_cr0 = [[591.5,248],[588.0,245],[586.0,237],[585.0,230],[584.3,228],[583.8,265],[583.4,300],[583.0,285],[582.5,245],[582.0,220],[581.0,208],[580.0,205],[578.0,205],[575.6,205],[575.2,218],[574.8,260],[574.4,330],[574.0,362],[573.7,350],[573.3,290],[572.9,210],[572.5,155],[572.0,118],[571.5,102],[571.0,95],[568.7,93]];
const f_ams_cr3 = [[591.5,248],[590.0,250],[589.0,258],[588.0,280],[587.0,318],[586.2,352],[585.6,355],[585.0,335],[584.3,295],[583.6,262],[582.8,230],[582.0,215],[581.0,208],[580.0,205],[579.0,210],[578.3,250],[577.7,330],[577.2,410],[576.7,445],[576.3,450],[575.8,430],[575.2,375],[574.6,320],[574.0,285],[573.5,255],[573.0,205],[572.5,155],[572.0,120],[571.5,103],[571.0,95],[568.7,93]];
const f_labels = [{x:584.0,y:845,text:"Cr(III)",c:"green"},{x:579.1,y:898,text:"Cr(0)",c:"blue"},{x:567.3,y:560,text:"CPT",c:"dark"},{x:567.3,y:150,text:"AMS",c:"dark"}];
const f_arrows = [{x1:584.0,y1:818,x2:585.35,y2:775,c:"green"},{x1:584.0,y1:818,x2:578.4,y2:740,c:"green"},{x1:579.3,y1:872,x2:581.6,y2:735,c:"blue"},{x1:579.3,y1:872,x2:574.0,y2:785,c:"blue"}];

// (g) Nb & Mo 3d
const g_cpt = [[243.5,563],[243.0,560],[242.5,558],[242.0,563],[241.5,556],[241.0,560],[240.5,556],[240.0,558],[239.5,563],[239.0,568],[238.5,573],[238.0,583],[237.5,598],[237.0,618],[236.5,628],[236.0,633],[235.5,623],[235.0,643],[234.5,668],[234.0,688],[233.5,708],[233.0,733],[232.6,736],[232.2,728],[231.8,733],[231.4,743],[231.0,753],[230.6,750],[230.2,718],[229.8,658],[229.4,618],[229.0,603],[228.6,628],[228.2,668],[227.8,748],[227.4,808],[227.2,810],[227.0,748],[226.7,648],[226.4,573],[226.0,553],[225.5,548],[225.0,543],[224.5,540],[224.0,538],[223.5,536],[223.0,533],[222.5,532],[222.0,530],[221.5,530],[221.0,528],[220.5,525],[220.0,523],[219.5,527],[219.0,528],[218.5,524],[218.0,526],[217.5,525],[217.0,523],[216.5,526],[216.0,528],[215.5,524],[215.0,526],[214.5,527],[214.0,528],[213.5,528],[213.0,530],[212.5,531],[212.0,533],[211.6,540],[211.3,548],[210.8,578],[210.4,638],[210.0,668],[209.6,683],[209.2,663],[208.8,623],[208.4,598],[208.0,618],[207.6,698],[207.2,768],[206.8,773],[206.4,738],[206.0,723],[205.6,718],[205.2,668],[204.8,588],[204.4,548],[204.0,568],[203.6,658],[203.2,748],[202.8,793],[202.4,783],[202.0,688],[201.6,568],[201.2,498],[200.8,483],[200.2,493],[199.6,503],[199.0,498],[198.4,508],[197.8,498],[197.2,503],[196.6,498],[196.0,508],[195.4,503],[194.8,498]];
const g_cpt_fit = [[240.8,553],[239.0,558],[238.0,570],[237.0,598],[236.3,628],[235.9,636],[235.4,623],[234.8,648],[234.2,678],[233.5,718],[232.9,736],[232.4,728],[232.0,730],[231.5,746],[231.0,750],[230.6,738],[230.2,693],[229.8,638],[229.3,603],[228.8,613],[228.3,673],[227.8,763],[227.4,808],[227.1,788],[226.8,688],[226.5,588],[226.1,548],[225.5,538],[224.0,530],[222.0,523],[220.0,520],[218.0,520],[216.0,520],[214.0,523],[212.5,528],[211.6,548],[211.0,593],[210.4,658],[209.8,678],[209.4,663],[208.9,613],[208.4,588],[208.0,618],[207.5,708],[207.1,768],[206.7,768],[206.3,733],[205.9,723],[205.5,708],[205.1,648],[204.7,568],[204.3,543],[203.9,588],[203.5,688],[203.1,768],[202.7,788],[202.3,758],[201.9,648],[201.5,528],[201.1,488],[200.5,486],[197.5,486]];
const g_cpt_bg = [[240.8,553],[238.0,551],[235.0,550],[232.0,549],[229.0,547],[227.0,545],[226.0,540],[224.0,532],[220.0,525],[216.0,524],[212.0,524],[209.0,522],[207.0,518],[205.0,510],[203.5,500],[202.0,490],[200.5,486],[197.5,486]];
const g_cpt_moox = [[240.8,553],[238.0,553],[237.0,560],[236.0,585],[235.5,605],[235.1,615],[234.6,600],[234.0,590],[233.3,620],[232.6,670],[232.1,690],[231.6,670],[231.0,620],[230.3,575],[229.5,556],[228.5,550],[227.0,547],[225.0,538]];
const g_cpt_mo0 = [[234.0,550],[232.5,560],[231.8,600],[231.3,680],[230.9,700],[230.5,670],[230.0,600],[229.3,565],[228.6,570],[228.0,640],[227.6,760],[227.3,805],[227.0,760],[226.6,640],[226.2,565],[225.5,545],[224.0,533]];
const g_cpt_nbv = [[213.0,524],[211.5,530],[210.6,560],[210.1,640],[209.7,672],[209.3,640],[208.8,570],[208.3,580],[207.6,650],[207.1,700],[206.7,690],[206.2,620],[205.6,545],[204.8,522],[203.0,500],[201.5,488],[200.0,486]];
const g_cpt_nb0 = [[208.0,521],[206.8,530],[206.2,570],[205.7,670],[205.4,700],[205.0,660],[204.5,570],[204.0,540],[203.4,600],[203.0,720],[202.7,790],[202.4,760],[202.0,650],[201.6,540],[201.1,495],[200.5,487],[197.5,486]];
const g_ams = [[243.5,168],[243.0,163],[242.5,170],[242.0,158],[241.5,163],[241.0,168],[240.5,153],[240.0,158],[239.5,163],[239.0,168],[238.5,173],[238.0,178],[237.5,193],[237.0,208],[236.5,223],[236.0,233],[235.5,223],[235.0,228],[234.5,248],[234.0,268],[233.5,288],[233.0,303],[232.6,308],[232.2,318],[231.8,328],[231.4,333],[231.0,363],[230.6,353],[230.2,308],[229.8,248],[229.4,208],[229.0,203],[228.6,238],[228.2,308],[227.8,408],[227.4,423],[227.2,428],[227.0,368],[226.7,248],[226.4,158],[226.0,148],[225.5,146],[225.0,138],[224.5,135],[224.0,133],[223.5,136],[223.0,138],[222.5,130],[222.0,128],[221.5,135],[221.0,133],[220.5,125],[220.0,123],[219.5,128],[219.0,128],[218.5,122],[218.0,120],[217.5,125],[217.0,126],[216.5,120],[216.0,123],[215.5,127],[215.0,128],[214.5,122],[214.0,123],[213.5,128],[213.0,130],[212.5,126],[212.0,128],[211.6,132],[211.3,138],[210.8,178],[210.4,248],[210.0,278],[209.6,283],[209.2,268],[208.8,228],[208.4,193],[208.0,208],[207.6,288],[207.2,368],[206.8,408],[206.4,388],[206.0,348],[205.6,338],[205.2,288],[204.8,208],[204.4,148],[204.0,178],[203.6,268],[203.2,348],[202.8,388],[202.4,393],[202.0,308],[201.6,168],[201.2,98],[200.8,83],[200.2,88],[199.6,93],[199.0,98],[198.4,88],[197.8,93],[197.2,83],[196.6,88],[196.0,78],[195.4,88],[194.8,83]];
const g_ams_fit = [[240.8,153],[239.0,163],[238.0,173],[237.0,203],[236.3,228],[235.9,233],[235.4,220],[234.8,240],[234.2,268],[233.5,288],[232.9,303],[232.4,313],[232.0,318],[231.5,338],[231.0,358],[230.6,343],[230.2,298],[229.8,238],[229.3,203],[228.8,218],[228.3,298],[227.8,388],[227.4,423],[227.1,398],[226.8,288],[226.5,178],[226.1,133],[225.5,128],[224.0,126],[222.0,123],[220.0,120],[218.0,120],[216.0,120],[214.0,121],[212.5,123],[211.6,148],[211.0,208],[210.4,268],[209.8,283],[209.4,268],[208.9,218],[208.4,193],[208.0,218],[207.5,318],[207.1,388],[206.7,393],[206.3,358],[205.9,338],[205.5,318],[205.1,258],[204.7,178],[204.3,143],[203.9,188],[203.5,288],[203.1,368],[202.7,398],[202.3,378],[201.9,278],[201.5,138],[201.1,83],[200.5,80],[197.5,80]];
const g_ams_bg = [[240.8,150],[238.0,148],[235.0,146],[232.0,145],[229.0,143],[227.0,141],[226.0,136],[224.0,130],[220.0,125],[216.0,124],[212.0,124],[209.0,122],[207.0,118],[205.0,110],[203.5,100],[202.0,88],[200.5,82],[197.5,80]];
const g_ams_moox = [[240.8,150],[238.0,150],[237.0,158],[236.0,185],[235.5,205],[235.1,215],[234.6,200],[234.0,190],[233.3,230],[232.6,290],[232.1,310],[231.6,290],[231.0,230],[230.3,175],[229.5,150],[228.5,145],[227.0,141]];
const g_ams_mo0 = [[234.0,145],[232.5,155],[231.8,200],[231.3,280],[230.9,300],[230.5,275],[230.0,205],[229.3,160],[228.6,170],[228.0,260],[227.6,380],[227.3,420],[227.0,380],[226.6,260],[226.2,160],[225.5,138],[224.0,130]];
const g_ams_nbv = [[213.0,124],[211.5,130],[210.6,165],[210.1,250],[209.7,280],[209.3,250],[208.8,175],[208.3,185],[207.6,260],[207.1,330],[206.7,320],[206.2,240],[205.6,145],[204.8,120],[203.0,100],[201.5,88],[200.0,82]];
const g_ams_nb0 = [[208.0,121],[206.8,130],[206.2,170],[205.7,290],[205.4,320],[205.0,280],[204.5,170],[204.0,140],[203.4,200],[203.0,330],[202.7,395],[202.4,370],[202.0,260],[201.6,140],[201.1,90],[200.5,82],[197.5,80]];
const g_labels = [{x:238.35,y:788,text:"Mo(ox)",c:"green"},{x:231.67,y:830,text:"Mo(0)",c:"blue"},{x:214.64,y:843,text:"Nb(V)",c:"green"},{x:207.03,y:886,text:"Nb(0)",c:"blue"},{x:219.3,y:576,text:"CPT",c:"dark"},{x:219.3,y:188,text:"AMS",c:"dark"}];
const g_arrows = [{x1:239.07,y1:763,x2:237.27,y2:650,c:"green"},{x1:239.07,y1:763,x2:233.46,y2:706,c:"green"},{x1:232.4,y1:808,x2:232.4,y2:746,c:"blue"},{x1:231.16,y1:803,x2:227.57,y2:763,c:"blue"},{x1:214.64,y1:818,x2:209.04,y2:770,c:"green"},{x1:214.64,y1:818,x2:209.97,y2:698,c:"green"},{x1:208.18,y1:863,x2:208.18,y2:803,c:"blue"},{x1:205.88,y1:860,x2:203.5,y2:826,c:"blue"}];

// (h) Al 2p
const h_cpt = [[79.5,640],[79.36,635],[79.21,640],[79.0,648],[78.79,652],[78.64,650],[78.5,648],[78.29,642],[78.14,640],[78.0,635],[77.79,630],[77.57,625],[77.36,620],[77.21,610],[77.0,595],[76.79,595],[76.64,600],[76.43,598],[76.21,595],[76.0,592],[75.79,595],[75.57,605],[75.36,615],[75.14,622],[74.93,630],[74.71,635],[74.5,638],[74.29,640],[74.07,645],[73.86,648],[73.71,650],[73.64,645],[73.43,650],[73.21,652],[73.0,648],[72.79,655],[72.57,652],[72.57,665],[72.36,650],[72.14,655],[71.93,658],[71.86,670],[71.71,652],[71.5,648],[71.29,645],[71.07,645],[70.86,648],[70.64,650],[70.43,665],[70.21,675],[70.0,690],[69.86,705],[69.71,722],[69.57,740],[69.46,770],[69.43,785]];
const h_ams = [[79.5,270],[79.36,265],[79.21,275],[79.0,270],[78.79,265],[78.64,280],[78.5,275],[78.29,270],[78.14,260],[78.0,258],[77.79,250],[77.57,252],[77.36,245],[77.21,235],[77.0,225],[76.79,218],[76.64,215],[76.43,212],[76.21,208],[76.0,205],[75.79,222],[75.57,225],[75.36,228],[75.14,240],[74.93,245],[74.71,252],[74.5,258],[74.29,262],[74.07,265],[73.86,275],[73.64,270],[73.43,260],[73.21,265],[73.0,265],[72.79,258],[72.57,265],[72.36,270],[72.14,275],[71.93,270],[71.71,265],[71.5,262],[71.29,265],[71.07,262],[70.86,255],[70.64,270],[70.43,280],[70.21,300],[70.0,312],[69.86,320],[69.71,332],[69.57,345],[69.46,372]];
const h_labels = [{x:70.54,y:732,text:"CPT",c:"dark"},{x:70.54,y:198,text:"AMS",c:"dark"}];

// tick labels / titles
const tags = ["(a)","(b)","(c)","(d)","(e)","(f)","(g)","(h)"];
const titles = ["C 1s","O 1s","Fe 2p","Ti 2p","Ni 2p","Cr 2p","Nb & Mo 3d","Al 2p"];
const xTicks = [[290,285,280,275],[536,532,528],[730,720,710,700],[465,460,455,450],[880,870,860,850],[590,580,570],[240,230,220,210,200],[78,76,74,72,70]];
const xMinor = [[292.5,287.5,282.5,277.5],[538,534,530,526],[725,715,705],[467.5,462.5,457.5,452.5],[875,865,855,845],[585,575,565],[235,225,215,205,195],[79,77,75,73,71]];
const yLabel = "Intensity (a.u.)";
const xLabel = "Corrected Binding energy /eV";
const watermark = "Journal Pre-proof";

// ---------------- LAYOUT / STYLE ----------------
const COL = {red:"#f00000", green:"#2ec42e", blue:"#2b2bff", orange:"#ffa21f", magenta:"#ff3fd2", bg:"#1e1e7a", dark:"#333333"};
const FONT = "'Liberation Sans', Arial, Helvetica, sans-serif";
const panels = [
 {frame:[107.3,336.7,15.7,334.3], xdom:[294.42,274.35], ymax:956, yMaj0:128, yMaj:165, yMin:33, tag:[89,41], rT:3.1, rC:3.7,
  comps:[[a_cpt_bg,"bg"],[a_cpt_co3,"magenta"],[a_cpt_co,"orange"],[a_cpt_sp3,"green"],[a_cpt_carb,"blue"],[a_ams_bg,"bg"],[a_ams_co3,"magenta"],[a_ams_co,"orange"],[a_ams_sp3,"green"],[a_ams_carb,"blue"]],
  cpt:a_cpt, ams:a_ams, fits:[a_cpt_fit,a_ams_fit], labels:a_labels, arrows:a_arrows},
 {frame:[385,615,15.7,333.3], xdom:[539.43,524.3], ymax:953, yMaj0:155, yMaj:245, yMin:40.83, tag:[382,40], rT:3.1, rC:3.7,
  comps:[[b_cpt_bg,"bg"],[b_cpt_ads,"orange"],[b_cpt_def,"green"],[b_cpt_lat,"blue"],[b_ams_bg,"bg"],[b_ams_ads,"orange"],[b_ams_def,"green"],[b_ams_lat,"blue"]],
  cpt:b_cpt, ams:b_ams, fits:[b_cpt_fit,b_ams_fit], labels:b_labels, arrows:b_arrows},
 {frame:[659.3,889.3,16.7,333.3], xdom:[734.5,699.4], ymax:950, yMaj0:160, yMaj:196, yMin:39.2, tag:[655,41], rT:3.1, rC:3.7,
  comps:[[c_cpt_bg,"bg"],[c_cpt_ni,"orange"],[c_cpt_fe3,"green"],[c_cpt_fe0,"blue"],[c_ams_bg,"bg"],[c_ams_ni,"orange"],[c_ams_fe3,"green"],[c_ams_fe0,"blue"]],
  cpt:c_cpt, ams:c_ams, fits:[c_cpt_fit,c_ams_fit], labels:c_labels, arrows:c_arrows},
 {frame:[940.7,1179.3,16.7,333.3], xdom:[469.2,450.7], clamp:true, ymax:950, yMaj0:230, yMaj:236, yMin:59, tag:[933,35], rT:3.7, rC:4.4,
  comps:[[d_cpt_bg,"bg"],[d_cpt_ti4,"green"],[d_cpt_ti0,"blue"],[d_ams_bg,"bg"],[d_ams_ti4,"green"],[d_ams_ti0,"blue"]],
  cpt:d_cpt, ams:d_ams, fits:[d_cpt_fit,d_ams_fit], labels:d_labels, arrows:d_arrows},
 {frame:[107.3,336.7,376.7,695], xdom:[884.6,844.25], ymax:955, yMaj0:190, yMaj:190, yMin:38, tag:[89,398], rT:3.1, rC:3.7,
  comps:[[e_cpt_bg,"bg"],[e_cpt_ni2,"green"],[e_cpt_ni0,"blue"],[e_ams_bg,"bg"],[e_ams_ni2,"green"],[e_ams_ni0,"blue"]],
  cpt:e_cpt, ams:e_ams, fits:[e_cpt_fit,e_ams_fit], labels:e_labels, arrows:e_arrows},
 {frame:[385,615.7,376,693.3], xdom:[594.6,563.7], ymax:952, yMaj0:235, yMaj:239, yMin:47.8, tag:[377,401], rT:3.1, rC:3.7,
  comps:[[f_cpt_bg,"bg"],[f_cpt_cr3,"green"],[f_cpt_cr0,"blue"],[f_ams_bg,"bg"],[f_ams_cr3,"green"],[f_ams_cr0,"blue"]],
  cpt:f_cpt, ams:f_ams, fits:[f_cpt_fit,f_ams_fit], labels:f_labels, arrows:f_arrows},
 {frame:[660.7,890,375,692.7], xdom:[243.9,194.5], ymax:953, yMaj0:168, yMaj:240, yMin:40, tag:[655,401], rT:3.1, rC:3.7,
  comps:[[g_cpt_bg,"bg"],[g_cpt_moox,"green"],[g_cpt_mo0,"blue"],[g_cpt_nbv,"green"],[g_cpt_nb0,"blue"],[g_ams_bg,"bg"],[g_ams_moox,"green"],[g_ams_mo0,"blue"],[g_ams_nbv,"green"],[g_ams_nb0,"blue"]],
  cpt:g_cpt, ams:g_ams, fits:[g_cpt_fit,g_ams_fit], labels:g_labels, arrows:g_arrows},
 {frame:[941.7,1177.3,375,693.3], xdom:[79.5,69.4], ymax:955, yMaj0:185, yMaj:255, yMin:51, tag:[933,398], rT:3.4, rC:4.2,
  comps:[], cpt:h_cpt, ams:h_ams, fits:[], labels:h_labels, arrows:[]}
];

const ML = 10, MR = 10, MT = 2, MB = 32;
const root = document.getElementById("root");
const px = d => d[0], py = d => d[1];

panels.forEach((p, i) => {
  const [L, R, T, B] = p.frame, W = R - L, H = B - T;
  const lo = Math.min(...p.xdom), hi = Math.max(...p.xdom);
  const inDom = v => v >= lo && v <= hi;
  const start = (s) => ((p.yMaj0 % s) + s) % s;
  const yMinor = d3.range(start(p.yMin), p.ymax, p.yMin);
  const yMajor = d3.range(start(p.yMaj), p.ymax, p.yMaj);
  const xt = xTicks[i].filter(inDom), xo = xTicks[i].filter(v => !inDom(v)), xm = xMinor[i].filter(inDom);
  const tk = {stroke: "#444", strokeWidth: 0.9};
  const marks = [
    Plot.tickY(yMinor, {y: d => d, ...tk, insetRight: W - 3.5}),
    Plot.tickY(yMinor, {y: d => d, ...tk, insetLeft: W - 3.5}),
    Plot.tickY(yMajor, {y: d => d, ...tk, insetRight: W - 7}),
    Plot.tickY(yMajor, {y: d => d, ...tk, insetLeft: W - 7}),
    Plot.tickX(xt, {x: d => d, ...tk, insetTop: H - 7}),
    Plot.tickX(xt, {x: d => d, ...tk, insetBottom: H - 7}),
    Plot.tickX(xm, {x: d => d, ...tk, insetTop: H - 4}),
    Plot.tickX(xm, {x: d => d, ...tk, insetBottom: H - 4})
  ];
  for (const [data, k] of p.comps) {
    marks.push(Plot.line(data, {x: px, y: py, stroke: COL[k], strokeWidth: k === "bg" ? 0.9 : 0.85, curve: "catmull-rom"}));
    if (k === "bg") marks.push(Plot.line(data, {x: px, y: py, stroke: "#2a2a2a", strokeWidth: 0.8, strokeDasharray: "3,3", curve: "catmull-rom"}));
  }
  marks.push(Plot.dot(p.cpt, {x: px, y: py, symbol: "triangle", r: p.rT, stroke: "#111", strokeWidth: 0.8, fill: "none"}));
  marks.push(Plot.dot(p.ams, {x: px, y: py, symbol: "circle", r: p.rC, stroke: "#111", strokeWidth: 0.8, fill: "none"}));
  for (const f of p.fits) marks.push(Plot.line(f, {x: px, y: py, stroke: COL.red, strokeWidth: 2.1, curve: "catmull-rom"}));
  const colorsA = [...new Set(p.arrows.map(d => d.c))];
  for (const k of colorsA) marks.push(Plot.link(p.arrows.filter(d => d.c === k), {x1: "x1", y1: "y1", x2: "x2", y2: "y2", stroke: COL[k], strokeWidth: 0.8, markerEnd: "arrow"}));
  const colorsL = [...new Set(p.labels.map(d => d.c))];
  for (const k of colorsL) marks.push(Plot.text(p.labels.filter(d => d.c === k), {x: "x", y: "y", text: "text", fill: COL[k], fontSize: k === "dark" ? 11.5 : 11}));
  marks.push(Plot.text([titles[i]], {frameAnchor: "top-left", dx: 13, dy: 16, lineAnchor: "top", textAnchor: "start", text: d => d, fontSize: 17, fill: "#111"}));
  marks.push(Plot.text(xt, {x: d => d, frameAnchor: "bottom", dy: 15, text: d => String(d), fontSize: 17, fill: "#222"}));
  if (xo.length) marks.push(Plot.text(xo, {x: d => d, frameAnchor: "bottom", dy: 15, dx: 3, textAnchor: "end", text: d => String(d), fontSize: 17, fill: "#222"}));
  marks.push(Plot.frame({stroke: "#3a3a3a", strokeWidth: 1}));

  const svg = Plot.plot({
    width: W + ML + MR, height: H + MT + MB,
    marginLeft: ML, marginRight: MR, marginTop: MT, marginBottom: MB,
    x: {domain: p.xdom, axis: null, clamp: !!p.clamp},
    y: {domain: [0, p.ymax], axis: null},
    style: {background: "transparent", overflow: "visible", fontFamily: FONT},
    marks
  });
  svg.style.position = "absolute";
  svg.style.left = (L - ML) + "px";
  svg.style.top = (T - MT) + "px";
  svg.style.maxWidth = "none";
  svg.querySelectorAll("marker").forEach(m => {
    const col = m.getAttribute("stroke") || "#000";
    m.setAttribute("markerUnits", "userSpaceOnUse");
    m.setAttribute("markerWidth", "7");
    m.setAttribute("markerHeight", "7");
    m.setAttribute("fill", col);
    m.setAttribute("stroke", "none");
    const path = m.querySelector("path");
    if (path) path.setAttribute("d", "M-5,-3.3L4,0L-5,3.3Z");
  });
  root.appendChild(svg);
});

// overlay: panel tags, axis titles, watermark
const ov = d3.create("svg").attr("width", 1186).attr("height", 758)
  .style("position", "absolute").style("left", "0").style("top", "0").style("pointer-events", "none");
panels.forEach((p, i) => {
  ov.append("text").attr("x", p.tag[0]).attr("y", p.tag[1]).attr("text-anchor", "end")
    .attr("font-family", FONT).attr("font-weight", "bold").attr("font-size", 30).attr("fill", "#000").text(tags[i]);
});
ov.append("text").attr("transform", "translate(29.5,391) rotate(-90)").attr("text-anchor", "middle")
  .attr("font-family", "'Open Sans', sans-serif").attr("font-size", 23).attr("fill", "#111").text(yLabel);
ov.append("text").attr("x", 641.5).attr("y", 751).attr("text-anchor", "middle")
  .attr("font-family", "'Open Sans', sans-serif").attr("font-size", 22.5).attr("fill", "#111").text(xLabel);
ov.append("text").attr("transform", "translate(523,652) rotate(-46)").attr("text-anchor", "middle")
  .attr("font-family", "'Open Sans', sans-serif").attr("font-weight", "bold").attr("font-size", 117)
  .attr("fill", "#c4c4c4").attr("fill-opacity", 0.75).text(watermark);
root.appendChild(ov.node());
</script></body></html>
